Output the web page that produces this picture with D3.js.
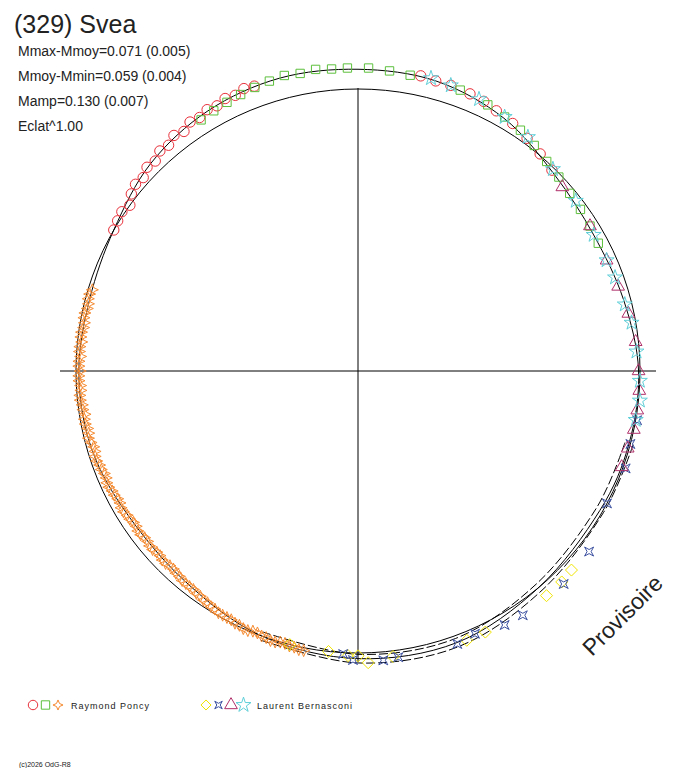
<!DOCTYPE html>
<html><head><meta charset="utf-8">
<script src="https://cdn.jsdelivr.net/npm/d3@7"></script>
<style>body{margin:0;background:#fff}svg{font-family:Arial,"Liberation Sans",sans-serif}</style>
</head><body><svg id="c" width="688" height="768"></svg>
<script>
// phase angle (deg, clockwise from top) and relative radius (1 = reference circle)
var curve = [[0,1.07],[15,1.065],[30,1.035],[45,0.985],[60,0.965],[75,0.975],[90,0.995],[105,0.995],
  [120,0.99],[140,1.0],[160,1.025],[180,1.02],[200,1.0],[220,0.965],[240,0.965],[255,0.985],
  [270,0.99],[285,0.985],[300,1.0],[315,1.04],[330,1.065],[345,1.075]];
var red = [[300,1.0],[302,1.005],[304,1.01],[306,1.0],[308,1.02],[310,1.03],[312,1.025],[314,1.04],[316,1.035],
  [318,1.05],[320,1.045],[322,1.06],[324,1.05],[326,1.065],[328,1.06],[330,1.07],[332,1.065],[334,1.075],[336,1.07],
  [338,1.08],[340,1.075],[12,1.07],[15,1.065],[18,1.065],[22,1.06],[25,1.055],[28,1.045],[32,1.035],[36,1.02],[40,1.005],[44,0.99]];
var green = [[328,1.05],[331,1.055],[334,1.06],[337,1.065],[340,1.07],[343,1.075],[346,1.08],[349,1.075],[352,1.08],
  [355,1.075],[358,1.075],[2,1.075],[6,1.07],[10,1.065],[20,1.06],[26,1.05],[30,1.04],[34,1.03],[38,1.015],[42,1.0],
  [46,0.99],[50,0.98],[54,0.975],[58,0.97],[62,0.965]];
var orange = [[287,0.985],[286,0.99],[285,0.99],[284,0.985],[283,0.985],[282,0.99],[281,0.99],[280,0.985],[279,0.985],
  [278,0.99],[277,0.99],[276,0.985],[275,0.99],[274,0.99],[273,0.985],[272,0.99],[271,0.99],[270,0.985],
  [269,0.99],[268,0.99],[267,0.985],[266,0.985],[265,0.99],[264,0.99],[263,0.985],[262,0.985],[261,0.98],[260,0.985],
  [259,0.985],[258,0.98],[257,0.98],[256,0.985],[255,0.98],[254,0.975],[253,0.975],[252,0.98],[251,0.98],
  [250,0.975],[249,0.975],[248,0.97],[247,0.97],[246,0.975],[245,0.975],[244,0.97],[243,0.97],[242,0.965],[241,0.965],
  [240,0.97],[239,0.97],[238,0.965],[237,0.965],[236,0.96],[235,0.96],[234,0.965],[233,0.965],[232,0.96],[231,0.96],
  [230,0.965],[229,0.965],[228,0.96],[227,0.96],[226,0.965],[225,0.965],[224,0.96],[223,0.96],[222,0.965],[221,0.965],
  [220,0.97],[219,0.97],[218,0.97],[217,0.97],[216,0.975],[215,0.975],[214,0.98],[213,0.98],[212,0.985],[211,0.985],
  [210,0.99],[209,0.99],[208,0.99],[207,0.99],[206,0.995],[205,0.995],[204,1.0],[203,1.0],[202,0.995],[201,0.995],
  [200,1.0],[199,1.0],[198,1.005],[197,1.005],[196,1.0],[195,1.0],[194,1.005],[193,1.005],[192,1.01],[191,1.01]];
var yellow = [[194,1.0],[186,1.0],[182,1.01],[180,1.01],[178,1.035],[173,1.02],[158,1.03],[154,1.03],[140,1.04],[136,1.04],[133,1.035]];
var blue = [[183,1.005],[181,1.025],[175,1.03],[172,1.025],[160,1.03],[156,1.02],[150,1.04],[146,1.045],[136,1.05],[128,1.04],[118,1.0],[110,1.01],[105,1.0],[100,1.005]];
var magenta = [[48,0.975],[58,0.97],[66,0.965],[72,0.97],[78,0.98],[84,0.99],[90,0.995],[94,1.0],[98,1.0],[102,1.0],[106,0.995],[110,0.995]];
var cyan = [[14,1.07],[18,1.065],[24,1.055],[30,1.04],[36,1.025],[44,0.995],[52,0.98],[60,0.965],[66,0.965],[70,0.97],[76,0.975],[80,0.985],[86,0.99],[92,1.0],[96,1.005],[100,1.0]];
var infoLines = ["Mmax-Mmoy=0.071 (0.005)","Mmoy-Mmin=0.059 (0.004)","Mamp=0.130 (0.007)","Eclat^1.00"];

var svg = d3.select("#c");
var cx = 358, cy = 371, R = 282;
var rs = d3.scaleLinear().domain([0,1]).range([0,R]);
var g = svg.append("g").attr("transform","translate("+cx+","+cy+")");
var rad = function(a){ return a*Math.PI/180; };
var px = function(d){ return rs(d[1])*Math.sin(rad(d[0])); };
var py = function(d){ return -rs(d[1])*Math.cos(rad(d[0])); };

g.append("line").attr("x1",-298).attr("x2",298).attr("y1",0).attr("y2",0).attr("stroke","#000");
g.append("line").attr("x1",0).attr("x2",0).attr("y1",-283).attr("y2",291).attr("stroke","#000");
g.append("circle").attr("r",R).attr("fill","none").attr("stroke","#000");

var lr = d3.lineRadial().angle(function(d){return rad(d[0]);}).radius(function(d){return rs(d[1]);}).curve(d3.curveCardinalClosed);
g.append("path").attr("d",lr(curve)).attr("fill","none").attr("stroke","#000");
[0.985,1.015].forEach(function(k){
  var part = curve.filter(function(d){return d[0]>=100 && d[0]<=200;}).map(function(d){return [d[0],d[1]*k];});
  g.append("path").attr("d",d3.lineRadial().angle(function(d){return rad(d[0]);}).radius(function(d){return rs(d[1]);}).curve(d3.curveCardinal)(part))
    .attr("fill","none").attr("stroke","#000").attr("stroke-dasharray","9,3");
});

var star4 = {draw:function(c,size){var r=Math.sqrt(size)*0.6,q=r*0.3;
  c.moveTo(0,-r);c.lineTo(q,-q);c.lineTo(r,0);c.lineTo(q,q);c.lineTo(0,r);c.lineTo(-q,q);c.lineTo(-r,0);c.lineTo(-q,-q);c.closePath();}};
var xsq = {draw:function(c,size){var r=Math.sqrt(size)*0.45,q=r*0.45;
  c.moveTo(-r,-r);c.lineTo(0,-q);c.lineTo(r,-r);c.lineTo(q,0);c.lineTo(r,r);c.lineTo(0,q);c.lineTo(-r,r);c.lineTo(-q,0);c.closePath();}};
var dia = {draw:function(c,size){var r=Math.sqrt(size)*0.6;
  c.moveTo(0,-r);c.lineTo(r,0);c.lineTo(0,r);c.lineTo(-r,0);c.closePath();}};
var series = [
  {d:red,c:"#e8303a",s:d3.symbolCircle,z:85},
  {d:green,c:"#5cbf3c",s:d3.symbolSquare,z:70},
  {d:orange,c:"#f58a30",s:star4,z:100},
  {d:yellow,c:"#f0e400",s:dia,z:100},
  {d:blue,c:"#3a4fa0",s:xsq,z:100},
  {d:magenta,c:"#b0306a",s:d3.symbolTriangle,z:70},
  {d:cyan,c:"#5fcfd8",s:d3.symbolStar,z:70}];
series.forEach(function(s){
  g.selectAll(null).data(s.d).enter().append("path")
    .attr("d",d3.symbol().type(s.s).size(s.z))
    .attr("transform",function(d){return "translate("+px(d)+","+py(d)+")";})
    .attr("fill","none").attr("stroke",s.c).attr("stroke-width",1);
});

svg.append("text").attr("x",14).attr("y",33).attr("font-size",25).attr("fill","#222").text("(329) Svea");
svg.selectAll(".info").data(infoLines).enter().append("text")
  .attr("x",18).attr("y",function(d,i){return 56+i*25;}).attr("font-size",14).attr("fill","#222").text(function(d){return d;});
svg.append("text").attr("transform","translate(592,657) rotate(-45)").attr("font-size",23).attr("fill","#222").text("Provisoire");

var leg = [{x:33,sy:[0,1,2],t:"Raymond Poncy",tx:71},{x:206,sy:[3,4,5,6],t:"Laurent Bernasconi",tx:257}];
leg.forEach(function(l){
  l.sy.forEach(function(k,i){
    svg.append("path").attr("d",d3.symbol().type(series[k].s).size(70))
      .attr("transform","translate("+(l.x+i*12.5)+",705)").attr("fill","none").attr("stroke",series[k].c);
  });
  svg.append("text").attr("x",l.tx).attr("y",709).attr("font-size",9).attr("letter-spacing",1).attr("fill","#222").text(l.t);
});
svg.append("text").attr("x",19).attr("y",767).attr("font-size",7).attr("fill","#222").text("(c)2026 OdG-R8");
</script></body></html>
